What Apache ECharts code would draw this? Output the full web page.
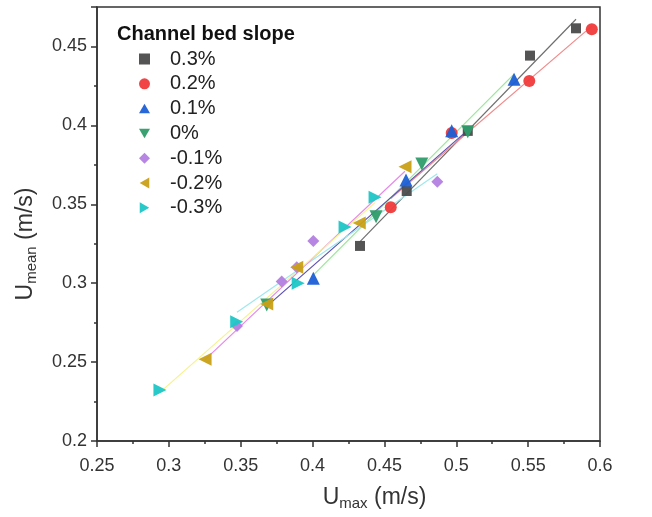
<!DOCTYPE html>
<html>
<head>
<meta charset="utf-8">
<script src="https://cdn.jsdelivr.net/npm/echarts@6/dist/echarts.min.js"></script>
<style>
  html, body { margin: 0; padding: 0; background: #fff; }
  #chart { width: 652px; height: 517px; }
</style>
</head>
<body>
<div id="chart"></div>
<script>
// slope groups (legend order)
const slopeNames = ['0.3%', '0.2%', '0.1%', '0%', '-0.1%', '-0.2%', '-0.3%']

// U_max (m/s) per group
const umax03 = [0.433, 0.4655, 0.508, 0.5513, 0.5833]
const umax02 = [0.4544, 0.4968, 0.5508, 0.5943]
const umax01 = [0.4005, 0.465, 0.4968, 0.5402]
const umax00 = [0.3681, 0.4442, 0.476, 0.508]
const umaxM01 = [0.3474, 0.3785, 0.389, 0.4005, 0.4868]
const umaxM02 = [0.3252, 0.3681, 0.389, 0.4325, 0.4643]
const umaxM03 = [0.2938, 0.3472, 0.39, 0.4226, 0.4435]

// U_mean (m/s) per group
const umean03 = [0.3236, 0.3584, 0.3965, 0.4442, 0.4615]
const umean02 = [0.3481, 0.3952, 0.4281, 0.4609]
const umean01 = [0.3031, 0.3654, 0.3966, 0.4292]
const umean00 = [0.2862, 0.3421, 0.3755, 0.396]
const umeanM01 = [0.2729, 0.301, 0.3101, 0.3267, 0.3643]
const umeanM02 = [0.2518, 0.2868, 0.3101, 0.3382, 0.3738]
const umeanM03 = [0.2323, 0.2756, 0.2999, 0.3356, 0.3544]

const xTicks = ['0.25', '0.3', '0.35', '0.4', '0.45', '0.5', '0.55', '0.6']
const yTicks = ['0.2', '0.25', '0.3', '0.35', '0.4', '0.45']

// path symbols keep their shape in the legend too
const SQ = 'path://M0,0L1,0L1,1L0,1Z'
const UP = 'path://M1,0L2,1.732L0,1.732Z'
const DOWN = 'path://M0,0L2,0L1,1.732Z'
const DIAM = 'path://M1,0L2,1L1,2L0,1Z'
const LEFT = 'path://M0,1L1.732,0L1.732,2Z'
const RIGHT = 'path://M0,0L1.732,1L0,2Z'

const groups = [
  { x: umax03, y: umean03, color: '#4b4b4b', symbol: SQ, size: 10, fit: '#6e6e6e' },
  { x: umax02, y: umean02, color: '#f03a3a', symbol: 'circle', size: 12, fit: '#f08a8a' },
  { x: umax01, y: umean01, color: '#1c5fd6', symbol: UP, size: 13, fit: '#94e894' },
  { x: umax00, y: umean00, color: '#2e9c6a', symbol: DOWN, size: 13, fit: '#5a4fb0' },
  { x: umaxM01, y: umeanM01, color: '#b37fe0', symbol: DIAM, size: 12, fit: '#9ee8ee' },
  { x: umaxM02, y: umeanM02, color: '#c9a016', symbol: LEFT, size: 13, fit: '#e58ae8' },
  { x: umaxM03, y: umeanM03, color: '#1fc6c6', symbol: RIGHT, size: 13, fit: '#f7f28a' }
]

// linear fit over each group's own x range
function fitLine(xs, ys) {
  const n = xs.length
  const mx = xs.reduce((a, b) => a + b, 0) / n
  const my = ys.reduce((a, b) => a + b, 0) / n
  let sxy = 0, sxx = 0
  for (let i = 0; i < n; i++) {
    sxy += (xs[i] - mx) * (ys[i] - my)
    sxx += (xs[i] - mx) * (xs[i] - mx)
  }
  const k = sxy / sxx
  const x0 = Math.min(...xs), x1 = Math.max(...xs)
  return [[x0, my + k * (x0 - mx)], [x1, my + k * (x1 - mx)]]
}

const font = 'Liberation Sans, Arial, sans-serif'
const series = []
groups.forEach((g, i) => {
  series.push({
    name: 'fit' + i,
    type: 'line',
    data: fitLine(g.x, g.y),
    symbol: 'none',
    silent: true,
    lineStyle: { color: g.fit, width: 1.2 },
    z: 1
  })
})
groups.forEach((g, i) => {
  series.push({
    name: slopeNames[i],
    type: 'scatter',
    data: g.x.map((v, j) => [v, g.y[j]]),
    symbol: g.symbol,
    symbolSize: g.size,
    itemStyle: { color: g.color, opacity: 0.95 },
    z: 3
  })
})

const chart = echarts.init(document.getElementById('chart'), null, { renderer: 'canvas' })
chart.setOption({
  animation: false,
  backgroundColor: '#fff',
  textStyle: { fontFamily: font },
  title: {
    text: 'Channel bed slope',
    left: 112,
    top: 19,
    textStyle: { fontFamily: font, fontSize: 20, fontWeight: 'bold', color: '#111' }
  },
  legend: {
    data: slopeNames,
    orient: 'vertical',
    left: 134,
    top: 44,
    itemWidth: 11,
    itemHeight: 11,
    itemGap: 4.8,
    textStyle: { fontFamily: font, fontSize: 20, color: '#222', lineHeight: 20, padding: [0, 0, 0, 15] }
  },
  grid: {
    left: 97,
    right: 52,
    top: 7,
    bottom: 76,
    show: true,
    borderColor: '#333',
    borderWidth: 1.5
  },
  xAxis: {
    type: 'value',
    min: 0.25,
    max: 0.6,
    interval: 0.05,
    splitLine: { show: false },
    axisLine: { lineStyle: { color: '#333', width: 1.5 } },
    axisTick: { length: 6, lineStyle: { color: '#333', width: 1.5 } },
    minorTick: { show: true, splitNumber: 2, length: 3, lineStyle: { color: '#333', width: 1.5 } },
    axisLabel: {
      fontSize: 18, color: '#333', fontFamily: font, margin: 16,
      formatter: v => xTicks.find(t => Math.abs(parseFloat(t) - v) < 1e-6) || ''
    },
    name: 'U{sub|max} (m/s)',
    nameLocation: 'middle',
    nameGap: 44,
    nameTextStyle: {
      fontSize: 23, color: '#333', fontFamily: font, padding: [0, 0, 0, 52],
      rich: { sub: { fontSize: 15, verticalAlign: 'bottom', padding: [11, 0, 0, 0], color: '#333' } }
    }
  },
  yAxis: {
    type: 'value',
    min: 0.2,
    max: 0.475,
    interval: 0.05,
    splitLine: { show: false },
    axisLine: { lineStyle: { color: '#333', width: 1.5 } },
    axisTick: { length: 6, lineStyle: { color: '#333', width: 1.5 } },
    minorTick: { show: true, splitNumber: 2, length: 3, lineStyle: { color: '#333', width: 1.5 } },
    axisLabel: {
      fontSize: 18, color: '#333', fontFamily: font, margin: 10, showMaxLabel: false,
      formatter: v => yTicks.find(t => Math.abs(parseFloat(t) - v) < 1e-6) || ''
    },
    name: 'U{sub|mean} (m/s)',
    nameLocation: 'middle',
    nameGap: 58,
    nameTextStyle: {
      fontSize: 23, color: '#333', fontFamily: font, padding: [0, 40, 0, 0],
      rich: { sub: { fontSize: 15, verticalAlign: 'bottom', padding: [11, 0, 0, 0], color: '#333' } }
    }
  },
  series: series
})
</script>
</body>
</html>
